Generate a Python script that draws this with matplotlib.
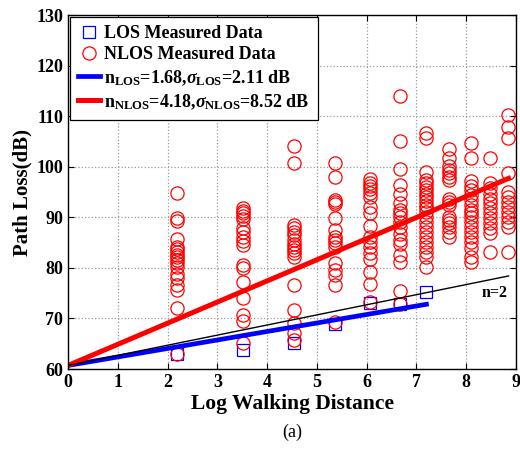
import numpy as np
import matplotlib
matplotlib.use('Agg')
import matplotlib.pyplot as plt

plt.rcParams['font.family'] = 'Liberation Serif'
plt.rcParams['font.weight'] = 'bold'
plt.rcParams['mathtext.fontset'] = 'custom'
plt.rcParams['mathtext.rm'] = 'Liberation Serif:bold'
plt.rcParams['mathtext.it'] = 'Liberation Serif:bold:italic'
plt.rcParams['mathtext.bf'] = 'Liberation Serif:bold'

# log walking distance of each measurement spot
col_x = [2.18, 3.52, 4.54, 5.37, 6.06, 6.67, 7.19, 7.66, 8.09, 8.48, 8.84]

# NLOS path loss (dB) at each spot
nlos_1 = [94.8, 89.8, 89.2, 85.8, 84.2, 83.7, 83.2, 82.5, 82.1, 81.5, 80.9, 80.2, 78.8, 77.9, 76.6, 75.7, 72.0, 62.9]
nlos_2 = [91.8, 91.2, 90.8, 90.2, 89.6, 87.8, 87.1, 86.2, 85.3, 84.5, 80.6, 79.9, 77.3, 74.0, 70.7, 69.4, 65.2]
nlos_3 = [104.1, 100.7, 88.5, 87.8, 87.1, 86.5, 85.5, 84.8, 84.2, 83.5, 82.9, 82.2, 76.6, 71.7, 69.0, 67.1, 65.8]
nlos_4 = [100.7, 97.9, 93.5, 93.1, 92.6, 89.8, 87.5, 86.2, 85.6, 85.0, 84.2, 80.9, 79.6, 78.6, 76.6, 69.3]
nlos_5 = [97.5, 96.7, 96.2, 95.5, 94.8, 94.1, 92.0, 90.9, 88.3, 86.2, 85.2, 84.2, 82.9, 81.7, 79.2, 76.9, 73.3]
nlos_6 = [114.0, 105.1, 99.5, 96.4, 94.6, 92.8, 91.4, 90.8, 90.1, 89.1, 88.1, 86.7, 85.6, 84.8, 82.5, 81.2, 75.5, 72.9]
nlos_7 = [106.6, 105.6, 99.0, 97.4, 96.7, 96.0, 95.4, 94.7, 94.1, 93.3, 92.4, 91.8, 91.1, 90.1, 89.1,
          88.1, 87.1, 86.2, 85.2, 84.2, 83.2, 82.2, 80.1]
nlos_8 = [103.6, 101.8, 100.1, 99.3, 98.7, 97.9, 97.4, 93.7, 93.1, 92.4, 90.1, 89.5, 88.8, 88.1, 87.1, 86.2]
nlos_9 = [104.6, 101.8, 97.2, 96.2, 95.4, 94.4, 93.4, 92.4, 91.4, 90.8, 90.1, 89.1, 88.1, 87.1, 86.2,
          85.2, 83.9, 82.2, 81.2]
nlos_10 = [101.8, 96.7, 95.7, 94.7, 93.7, 92.8, 91.8, 90.8, 89.8, 88.8, 87.8, 86.8, 83.2]
nlos_11 = [110.2, 107.9, 105.6, 98.7, 95.0, 94.1, 93.1, 92.1, 91.1, 90.1, 89.1, 88.1, 83.2]
nlos_cols = [nlos_1, nlos_2, nlos_3, nlos_4, nlos_5, nlos_6, nlos_7, nlos_8, nlos_9, nlos_10, nlos_11]

# LOS path loss (dB), first 7 spots
los_x = [2.18, 3.52, 4.54, 5.37, 6.06, 6.67, 7.19]
los_pl = [62.9, 63.8, 65.1, 68.9, 73.0, 72.9, 75.3]

pl0 = 60.7
n_los, s_los = 1.68, 2.11
n_nlos, s_nlos = 4.18, 8.52

nx = np.concatenate([[x] * len(c) for x, c in zip(col_x, nlos_cols)])
ny = np.concatenate(nlos_cols)

fig = plt.figure(figsize=(5.2, 4.55), dpi=100)
ax = fig.add_axes([0.1308, 0.189, 0.8615, 0.778])

ax.plot(los_x, los_pl, 's', ms=8.5, mfc='none', mec='#0000ff', mew=0.9,
        label='LOS Measured Data')
ax.plot(nx, ny, 'o', ms=9.5, mfc='none', mec='#ff0000', mew=0.9,
        label='NLOS Measured Data')

xl = np.array([0, 7.2])
ax.plot(xl, pl0 + n_los * xl, color='#0000ff', lw=3.4,
        label=r'n$_{\mathrm{LOS}}$=%.2f,$\sigma_{\mathrm{LOS}}$=%.2f dB' % (n_los, s_los))
xn = np.array([0, 8.85])
ax.plot(xn, pl0 + n_nlos * xn, color='#ff0000', lw=3.6,
        label=r'n$_{\mathrm{NLOS}}$=%.2f,$\sigma_{\mathrm{NLOS}}$=%.2f dB' % (n_nlos, s_nlos))
ax.plot(xn, pl0 + 2 * xn, color='black', lw=1.0)
ax.text(8.3, 74.2, 'n=2', fontsize=11.5, fontweight='bold')

ax.set_xlim(0, 9)
ax.set_ylim(60, 130)
ax.set_xticks(range(0, 10))
ax.set_yticks(range(60, 131, 10))
ax.grid(True, linestyle=':', color='#999999', lw=0.9)
ax.tick_params(direction='in', top=True, right=True, labelsize=13, length=4)
for s in ax.spines.values():
    s.set_linewidth(1.0)

ax.set_xlabel('Log Walking Distance', fontsize=15.5, fontweight='bold', labelpad=2)
ax.set_ylabel('Path Loss(dB)', fontsize=15, fontweight='bold', labelpad=3)

leg = ax.legend(loc='upper left', fontsize=13, handlelength=1.2, handletextpad=0.25,
                borderaxespad=0.1, borderpad=0.45, labelspacing=0.25, fancybox=False,
                edgecolor='black', framealpha=1)
leg.get_frame().set_linewidth(0.9)

fig.text(0.562, 0.04, '(a)', fontsize=13, fontweight='normal', ha='center')

fig.savefig('out.png', dpi=100)
